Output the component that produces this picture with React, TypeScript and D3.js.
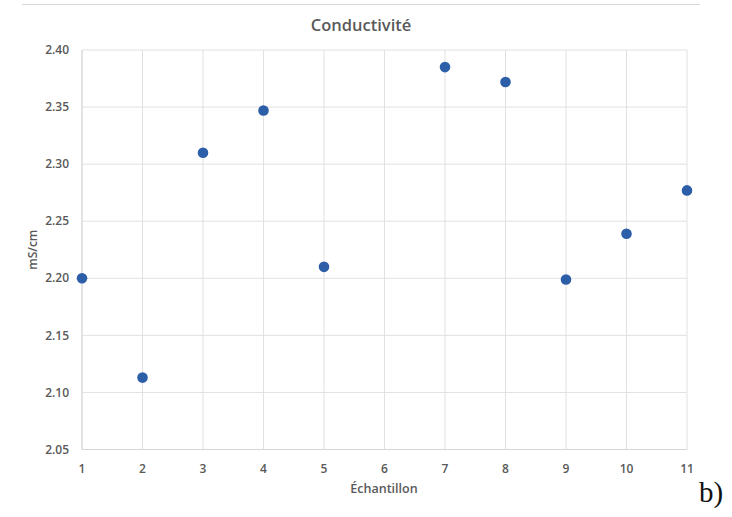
import React from "react";
import * as d3 from "d3";

const samples = [1, 2, 3, 4, 5, 7, 8, 9, 10, 11];
const values = [2.2, 2.113, 2.31, 2.347, 2.21, 2.385, 2.372, 2.199, 2.239, 2.277];
const xTicks = [1, 2, 3, 4, 5, 6, 7, 8, 9, 10, 11];
const yTicks = [2.05, 2.1, 2.15, 2.2, 2.25, 2.3, 2.35, 2.4];
const title = "Conductivité";
const xTitle = "Échantillon";
const yTitle = "mS/cm";

export default function App() {
  const W = 732, H = 517;
  const left = 82, right = 687, top = 50, bottom = 449.5;
  const x = d3.scaleLinear().domain([1, 11]).range([left, right]);
  const y = d3.scaleLinear().domain([2.05, 2.4]).range([bottom, top]);
  const font = "'Open Sans', 'Noto Sans', sans-serif";
  const grid = "#e1e1e1";
  const txt = "#595959";
  return (
    <svg width={W} height={H} style={{ position: "absolute", left: 0, top: 0, background: "#fff" }} fontFamily={font}>
      <rect width={W} height={H} fill="#fff" />
      <line x1={22} x2={700} y1={4.5} y2={4.5} stroke="#d8d8d8" strokeWidth={1} />
      {yTicks.map((t) => (
        <g key={"y" + t}>
          <line x1={left} x2={right} y1={y(t)} y2={y(t)} stroke={grid} strokeWidth={1} />
          <text x={69} y={y(t)} dy="0.35em" textAnchor="end" fontSize={12} fontWeight={600} fill={txt}>
            {d3.format(".2f")(t)}
          </text>
        </g>
      ))}
      {xTicks.map((t) => (
        <g key={"x" + t}>
          <line x1={x(t)} x2={x(t)} y1={top} y2={bottom} stroke={grid} strokeWidth={1} />
          <text x={x(t)} y={469} dy="0.35em" textAnchor="middle" fontSize={12} fontWeight={600} fill={txt}>
            {t}
          </text>
        </g>
      ))}
      <line x1={left} x2={left} y1={top} y2={bottom} stroke="#d6d6d6" strokeWidth={1} />
      <line x1={left} x2={right} y1={bottom} y2={bottom} stroke="#d6d6d6" strokeWidth={1} />
      <text x={361} y={25} dy="0.35em" textAnchor="middle" fontSize={16.5} fontWeight={600} fill={txt}>
        {title}
      </text>
      <text x={384} y={489} dy="0.35em" textAnchor="middle" fontSize={12.5} fontWeight={600} fill={txt}>
        {xTitle}
      </text>
      <text transform={`translate(33,${(top + bottom) / 2}) rotate(-90)`} dy="0.35em" textAnchor="middle" fontSize={12} fontWeight={600} fill={txt}>
        {yTitle}
      </text>
      {samples.map((s, i) => (
        <circle key={"p" + s} cx={x(s)} cy={y(values[i])} r={5.3} fill="#2d5ea8" />
      ))}
      <text x={699} y={502} fontFamily="'Liberation Serif', 'DejaVu Serif', serif" fontSize={29} fill="#111">
        b)
      </text>
    </svg>
  );
}
